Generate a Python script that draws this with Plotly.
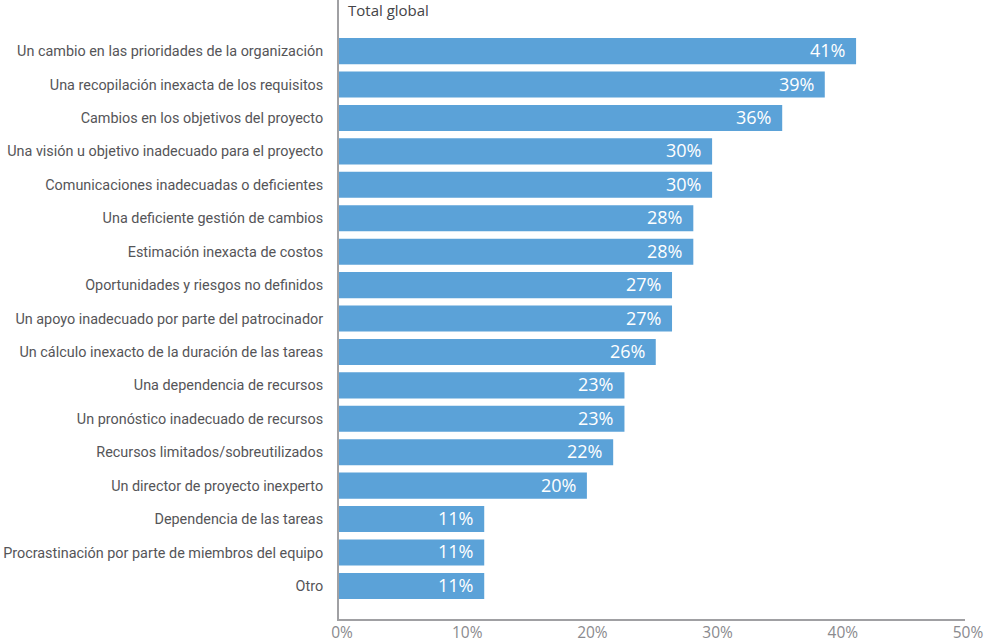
import plotly.graph_objects as go

categories = [
    "Un cambio en las prioridades de la organización",
    "Una recopilación inexacta de los requisitos",
    "Cambios en los objetivos del proyecto",
    "Una visión u objetivo inadecuado para el proyecto",
    "Comunicaciones inadecuadas o deficientes",
    "Una deficiente gestión de cambios",
    "Estimación inexacta de costos",
    "Oportunidades y riesgos no definidos",
    "Un apoyo inadecuado por parte del patrocinador",
    "Un cálculo inexacto de la duración de las tareas",
    "Una dependencia de recursos",
    "Un pronóstico inadecuado de recursos",
    "Recursos limitados/sobreutilizados",
    "Un director de proyecto inexperto",
    "Dependencia de las tareas",
    "Procrastinación por parte de miembros del equipo",
    "Otro",
]
values = [41.3, 38.8, 35.4, 29.8, 29.8, 28.3, 28.3, 26.6, 26.6, 25.3,
          22.8, 22.8, 21.9, 19.8, 11.6, 11.6, 11.6]
value_labels = ["41%", "39%", "36%", "30%", "30%", "28%", "28%", "27%", "27%",
                "26%", "23%", "23%", "22%", "20%", "11%", "11%", "11%"]
tick_vals = [0, 10, 20, 30, 40, 50]
tick_text = ["0%", "10%", "20%", "30%", "40%", "50%"]
title_text = "Total global"

BAR = "#5BA2D8"
LABEL = "#555558"
TICK = "#8a8a8e"
AXIS = "#a0a0a3"

fig = go.Figure()
fig.add_trace(go.Bar(
    x=values, y=categories, orientation="h",
    marker=dict(color=BAR, line=dict(width=0)),
    hoverinfo="skip",
))

for v, c, t in zip(values, categories, value_labels):
    fig.add_annotation(
        x=v, y=c, xref="x", yref="y", text=t, showarrow=False,
        xanchor="right", yanchor="middle", xshift=-9, yshift=1,
        font=dict(family="Open Sans", size=18, color="white"),
    )

fig.add_annotation(
    x=0, y=1, xref="paper", yref="paper", text=title_text, showarrow=False,
    xanchor="left", yanchor="top", xshift=7, yshift=2,
    font=dict(family="Open Sans", size=15, color="#444447"),
)

n = len(categories)
fig.update_layout(
    width=984, height=644,
    margin=dict(l=339, r=19, t=0, b=25, pad=0, autoexpand=False),
    plot_bgcolor="white", paper_bgcolor="white",
    showlegend=False, bargap=0.22,
    xaxis=dict(
        range=[0, 50], tickvals=tick_vals, ticktext=tick_text,
        showgrid=False, zeroline=False, automargin=False,
        showline=True, linecolor=AXIS, linewidth=2,
        ticks="", ticklabelstandoff=-2,
        ticklabelshift=3, ticklabeloverflow="allow",
        tickfont=dict(family="Open Sans", size=15.5, color=TICK),
    ),
    yaxis=dict(
        type="category", categoryorder="array", categoryarray=categories,
        range=[n - 0.01, -1.53],
        showgrid=False, zeroline=False, automargin=False,
        showline=True, linecolor=AXIS, linewidth=2,
        ticks="", ticklabelstandoff=11,
        tickfont=dict(family="Roboto", size=14.4, color=LABEL),
    ),
)

fig.write_html("out.html")
